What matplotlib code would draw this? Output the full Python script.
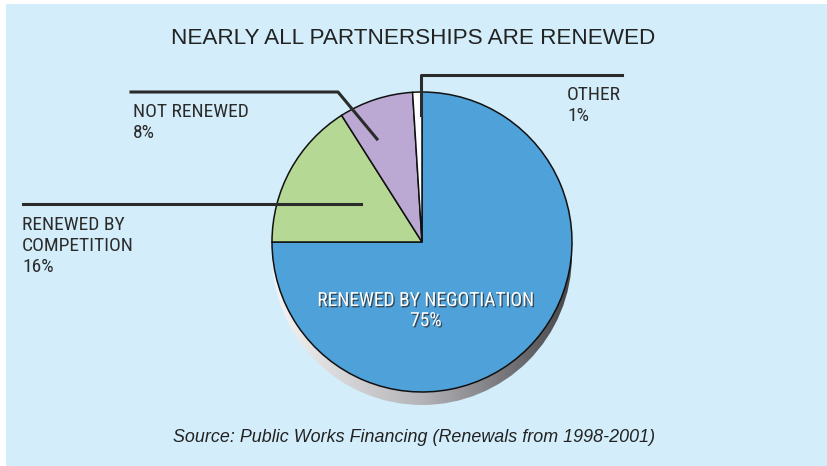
import numpy as np
import matplotlib.pyplot as plt
from matplotlib.patches import Circle, Rectangle
from matplotlib.colors import LinearSegmentedColormap
import matplotlib.patheffects as pe
from matplotlib import font_manager

# data
labels = ["RENEWED BY NEGOTIATION", "RENEWED BY\nCOMPETITION", "NOT RENEWED", "OTHER"]
shares = [75, 16, 8, 1]
colors = ["#4FA1D9", "#B5D894", "#BBA9D3", "#FFFFFF"]

# pick a condensed face for the labels
names = {f.name for f in font_manager.fontManager.ttflist}
narrow = next((n for n in ["Roboto Condensed", "Archivo Narrow", "Barlow Condensed"] if n in names),
              "DejaVu Sans")
plt.rcParams['font.family'] = [narrow, 'DejaVu Sans']

W, H = 827, 466
fig = plt.figure(figsize=(W / 100, H / 100), dpi=100)
ax = fig.add_axes([0, 0, 1, 1])

# light blue panel, white strip on top and left
ax.add_patch(Rectangle((6, 0), W, H - 4, facecolor="#D3EEFA", edgecolor="none", zorder=0))

cx, cy, r = 422, H - 242, 150

# shadow under the pie: grey gradient disc shifted down
grad = np.linspace(0, 1, 256).reshape(1, -1)
cmap = LinearSegmentedColormap.from_list("sh", ["#F6F6F6", "#B4B4B8", "#454549"])
im = ax.imshow(grad, cmap=cmap, extent=(cx - r - 2, cx + r + 2, cy - r - 15, cy + r - 11),
               aspect='auto', zorder=1)
im.set_clip_path(Circle((cx, cy - 13), r, transform=ax.transData))

wedges, _ = ax.pie(shares, colors=colors, startangle=90, counterclock=False,
                   center=(cx, cy), radius=r, frame=True,
                   wedgeprops=dict(edgecolor="#111111", linewidth=1.1))
for w in wedges:
    w.set_zorder(2)

ax.set_xlim(0, W)
ax.set_ylim(0, H)
ax.set_aspect('equal')
ax.axis('off')

# title and source
ax.text(413, H - 38, "NEARLY ALL PARTNERSHIPS ARE RENEWED", ha='center', va='center',
        fontsize=16.2, color="#222222", family=['Liberation Sans', 'DejaVu Sans'])
ax.text(414, H - 438, "Source: Public Works Financing (Renewals from 1998-2001)",
        ha='center', va='center', fontsize=12.9, style='italic', color="#222222",
        family=['Liberation Sans', 'DejaVu Sans'])

# leader lines
lc = "#2B2B2B"
ax.plot([131, 338, 377], [H - 92, H - 92, H - 139], color=lc, lw=2.2, zorder=3)
ax.plot([421, 421, 622], [H - 115, H - 75, H - 75], color=lc, lw=2.2, zorder=3)
ax.plot([23, 361], [H - 204, H - 204], color=lc, lw=2.2, zorder=3)

# labels
lab_kw = dict(fontsize=14, color="#2B2B2B", va='top', ha='left', linespacing=1.2)
ax.text(133, H - 103, f"{labels[2]}\n{shares[2]}%", **lab_kw)
ax.text(567, H - 86, f"{labels[3]}\n{shares[3]}%", **lab_kw)
ax.text(22, H - 216, f"{labels[1]}\n{shares[1]}%", **lab_kw)
ax.text(426, H - 311, f"{labels[0]}\n{shares[0]}%", fontsize=14, color="white",
        ha='center', va='center', linespacing=1.15, zorder=4,
        path_effects=[pe.withSimplePatchShadow(offset=(1, -1), shadow_rgbFace="#333333", alpha=0.8)])

fig.savefig("out.png", dpi=100)
